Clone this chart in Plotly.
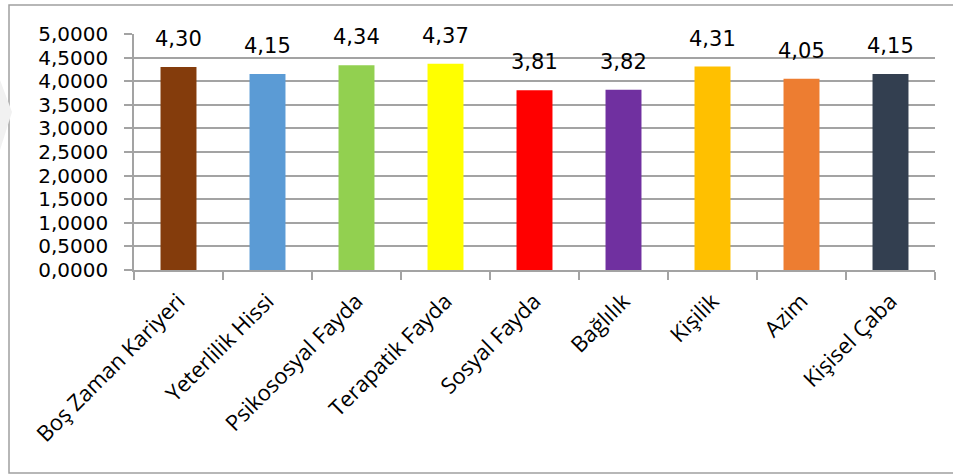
import plotly.graph_objects as go

# Mean scores per dimension
categories = [
    "Boş Zaman Kariyeri", "Yeterlilik Hissi", "Psikososyal Fayda",
    "Terapatik Fayda", "Sosyal Fayda", "Bağlılık", "Kişilik", "Azim",
    "Kişisel Çaba",
]
scores = [4.30, 4.15, 4.34, 4.37, 3.81, 3.82, 4.31, 4.05, 4.15]
bar_colors = [
    "#843C0C", "#5B9BD5", "#92D050", "#FFFF00", "#FF0000",
    "#7030A0", "#FFC000", "#ED7D31", "#333F50",
]
y_ticks = [0, 0.5, 1, 1.5, 2, 2.5, 3, 3.5, 4, 4.5, 5]

W, H = 953, 475
L, R, T, B = 134, 18, 34, 205
PW, PH = W - L - R, H - T - B

FONT = "DejaVu Sans"
GRAY = "#a3a3a3"


def px_to_paper(x, y):
    return (x - L) / PW, (H - B - y) / PH


fig = go.Figure(
    go.Bar(
        x=categories,
        y=scores,
        marker=dict(color=bar_colors, line=dict(width=0)),
        hoverinfo="skip",
    )
)

# value labels above each bar
for cat, val in zip(categories, scores):
    fig.add_annotation(
        x=cat, y=val, text=f"{val:.2f}".replace(".", ","),
        showarrow=False, yanchor="bottom", yshift=14,
        font=dict(family=FONT, size=21, color="#000000"),
    )

# outer frame of the chart
x0, y0 = px_to_paper(9, 5)
x1, y1 = px_to_paper(962, 473)
fig.add_shape(type="rect", xref="paper", yref="paper",
              x0=x0, y0=y1, x1=x1, y1=y0,
              line=dict(color="#a0a0a0", width=1.5), layer="below")

# faint mark on the left edge
pts = [px_to_paper(0, 80), px_to_paper(12, 112), px_to_paper(0, 150)]
path = "M {} {} L {} {} L {} {} Z".format(*[c for p in pts for c in p])
fig.add_shape(type="path", xref="paper", yref="paper", path=path,
              fillcolor="#f1f1f1", line=dict(width=0), layer="below")

fig.update_layout(
    width=W, height=H, autosize=False,
    margin=dict(l=L, r=R, t=T, b=B, pad=0),
    paper_bgcolor="white", plot_bgcolor="white",
    separators=",.",
    bargap=0.596,
    showlegend=False,
    font=dict(family=FONT, color="#000000"),
)
fig.update_yaxes(
    range=[0, 5], tickvals=y_ticks, tickformat=".4f",
    showgrid=True, gridcolor=GRAY, gridwidth=1.5,
    showline=True, linecolor=GRAY, linewidth=1.5,
    ticks="outside", ticklen=8, tickcolor=GRAY, tickwidth=1.5,
    ticklabelstandoff=12,
    tickfont=dict(family=FONT, size=20, color="#000000"),
    zeroline=False, fixedrange=True,
)
fig.update_xaxes(
    tickangle=-45, tickson="boundaries",
    showline=True, linecolor=GRAY, linewidth=1.5,
    ticks="outside", ticklen=8, tickcolor=GRAY, tickwidth=1.5,
    ticklabelstandoff=8,
    tickfont=dict(family="Open Sans", size=22, color="#000000"),
    showgrid=False, fixedrange=True,
)

fig.write_html("out.html")
